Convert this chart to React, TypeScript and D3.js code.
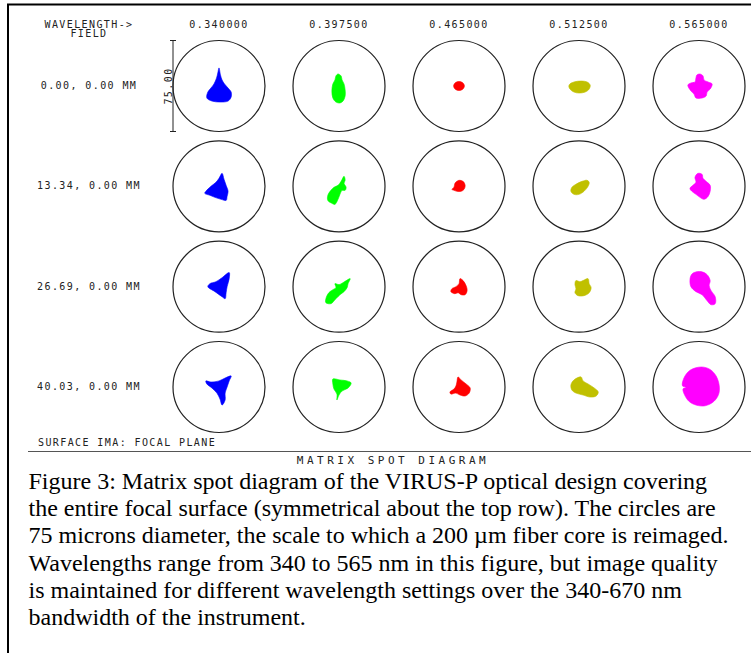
import * as d3 from 'd3'

const width = 751
const height = 653

// wavelengths (µm) across the top, field points down the side
const wavelengths = ['0.340000', '0.397500', '0.465000', '0.512500', '0.565000']
const fields = ['0.00, 0.00 MM', '13.34, 0.00 MM', '26.69, 0.00 MM', '40.03, 0.00 MM']
const spotColors = ['#0000ff', '#00ff00', '#ff0000', '#c0c000', '#ff00ff']

const circleDiameter = 75 // microns
const scaleLabel = '75.00'
const surfaceLabel = 'SURFACE IMA: FOCAL PLANE'
const title = 'MATRIX SPOT DIAGRAM'

// spot outlines, microns from the chief ray (x right, y down), one per wavelength
const spotsField0 = [
  [[0,-14.9],[1.2,-9.1],[2.5,-5],[4.5,-1.7],[7.4,1.7],[9.9,5],[9.9,9.1],[7.4,12.4],[0.8,13.2],[-5.8,12.4],[-9.9,9.9],[-9.1,5],[-6.6,1.7],[-4.1,-1.7],[-2,-6.6],[-1,-10.7]],
  [[-0.8,-9.9],[1.7,-8.3],[2.5,-5],[4.1,-1.7],[5,3.3],[5,8.3],[3.3,12.4],[0.8,14],[-2.5,13.2],[-5,9.9],[-5.8,4.1],[-5,-1.7],[-3.3,-5],[-2.5,-8.3]],
  [[4.4,0],[3.1,-2.6],[0,-3.7],[-3.1,-2.6],[-4.4,0],[-3.1,2.6],[0,3.7],[3.1,2.6]],
  [[-7.4,-1.7],[-4.1,-3.3],[1.7,-4.1],[6.6,-3.3],[9.1,-0.8],[8.3,2.5],[5,5],[0,5.8],[-4.1,5],[-7.4,2.5],[-8.3,0]],
  [[0.8,-9.9],[3.3,-8.3],[4.1,-5],[7.4,-3.3],[10.7,-1.7],[9.1,2.5],[6.6,5],[5.8,8.3],[2.5,9.9],[-2.5,9.9],[-4.1,6.6],[-6.6,4.1],[-9.1,-0.8],[-6.6,-2.5],[-3.3,-3.3],[-2.5,-6.6],[-1.7,-9.1]],
]
const spotsField13 = [
  [[2.5,-10.7],[4.1,-5.8],[5.8,-0.8],[7.4,4.1],[6.6,8.3],[5.8,11.6],[1.7,10.7],[-3.3,9.1],[-7.4,7.4],[-11.6,5.8],[-10.7,4.1],[-6.6,0],[-2.5,-3.3],[0,-6.6]],
  [[4.1,-8.3],[5,-5],[4.1,-2.5],[5.8,0.8],[5,3.3],[2.5,3.3],[0.8,6.6],[-0.8,10.7],[-3.3,14.9],[-5.8,14],[-9.1,11.6],[-9.1,7.4],[-6.6,3.3],[-4.1,0.8],[-0.8,-0.8],[1.7,-4.1]],
  [[0,-5],[3.3,-4.1],[5,-0.8],[4.1,2.5],[1.7,4.1],[-1.7,4.1],[-4.1,3.3],[-5.8,2.5],[-4.1,0.8],[-3.3,-2.5],[-1.7,-4.1]],
  [[6.6,-5],[8.3,-3.3],[7.4,0],[4.1,4.1],[0,6.6],[-4.1,6.6],[-6.6,4.1],[-5.8,0.8],[-2.5,-1.7],[2.5,-4.1]],
  [[-0.8,-10.7],[2.5,-9.9],[3.3,-6.6],[5.8,-4.1],[9.1,-0.8],[9.1,4.1],[7.4,8.3],[4.1,10.7],[0.8,9.1],[-2.5,6.6],[-5.8,4.1],[-7.4,1.7],[-5,-0.8],[-2.5,-3.3],[-3.3,-7.4]],
]
const spotsField26 = [
  [[8.3,-11.6],[8.3,-6.6],[6.6,0],[5.8,5],[5,9.9],[2.5,8.3],[-3.3,4.1],[-9.1,0],[-7.4,-2.5],[-2.5,-4.1],[2.5,-7.4]],
  [[9.1,-6.6],[7.4,-2.5],[6.6,0.8],[4.1,4.1],[0.8,6.6],[-2.5,9.9],[-6.6,14],[-10.7,13.2],[-10.7,9.9],[-8.3,5],[-5,2.5],[-2.5,0.8],[-3.3,-2.5],[0,-1.7],[3.3,-3.3]],
  [[0.8,-6.6],[3.3,-5],[5.8,-0.8],[6.6,3.3],[5,6.6],[1.7,6.6],[-0.8,5],[-3.3,5.8],[-6.6,4.1],[-5.8,1.7],[-2.5,0],[0,-2.5]],
  [[-2.5,-5],[0.8,-4.1],[3.3,-5],[7.4,-6.6],[8.3,-2.5],[9.9,0.8],[8.3,5],[4.1,7.4],[-0.8,7.4],[-3.3,5],[-2.5,1.7],[-3.3,-1.7]],
  [[-4.1,-11.6],[1.7,-12.4],[6.6,-9.9],[9.1,-5],[8.3,-0.8],[9.9,3.3],[13.2,8.3],[13.2,14],[9.9,14.9],[6.6,11.6],[2.5,6.6],[-2.5,4.1],[-6.6,0],[-7.4,-5],[-6.6,-9.1]],
]
const spotsField40 = [
  [[-10.7,-5],[-6.6,-4.1],[0,-5],[5,-7.4],[9.9,-9.1],[8.3,-5],[6.6,0],[5,5],[5,10.7],[2.5,14.9],[0.8,9.9],[-1.7,5],[-5.8,0.8],[-9.9,-2.5]],
  [[-5,-6.6],[0.8,-5.8],[6.6,-5],[9.9,-3.3],[7.4,0.8],[2.5,3.3],[0,6.6],[-1.7,10.7],[-1.7,5.8],[-4.1,1.7],[-5,-2.5]],
  [[-0.8,-8.3],[1.7,-5.8],[5.8,-2.5],[9.1,0.8],[8.3,5],[5,7.4],[0.8,6.6],[-2.5,5],[-6.6,5.8],[-7.4,4.1],[-4.1,1.7],[-2.5,-0.8],[-1.7,-4.1]],
  [[-4.1,-5.8],[1.7,-8.3],[3.3,-5],[7.4,-2.5],[12.4,0.8],[15.7,4.1],[14,7.4],[9.1,8.3],[3.3,6.6],[-2.5,5],[-5.8,2.5],[-6.6,-1.7]],
  [[2,-16.5],[9,-14.5],[14,-9],[16.5,-1],[16,6],[12,12],[5,15.5],[-2,15],[-8,12],[-12,6],[-13,1.5],[-10.5,0.5],[-13.5,-1],[-12,-8],[-7,-14]],
]
const spots = [spotsField0, spotsField13, spotsField26, spotsField40]

const captionLines = [
  'Figure 3: Matrix spot diagram of the VIRUS-P optical design covering',
  'the entire focal surface (symmetrical about the top row). The circles are',
  '75 microns diameter, the scale to which a 200 \u00b5m fiber core is reimaged.',
  'Wavelengths range from 340 to 565 nm in this figure, but image quality',
  'is maintained for different wavelength settings over the 340-670 nm',
  'bandwidth of the instrument.',
]

const mono = '"DejaVu Sans Mono", monospace'
const ink = '#222'

function App() {
  const col = d3.scalePoint().domain(wavelengths).range([219, 699])
  const row = d3.scalePoint().domain(fields).range([86, 387])

  // microns -> pixels inside one cell
  const sx = d3.scaleLinear().domain([-circleDiameter / 2, circleDiameter / 2]).range([-46, 46])
  const sy = d3.scaleLinear().domain([-circleDiameter / 2, circleDiameter / 2]).range([-45.5, 45.5])

  const spotLine = d3.line<number[]>()
    .x(d => sx(d[0]))
    .y(d => sy(d[1]))
    .curve(d3.curveCatmullRomClosed)

  const captionY = d3.scaleLinear().domain([0, 1]).range([489, 516.2])

  const barX = (col(wavelengths[0]) as number) + sx(-circleDiameter / 2)
  const barTop = (row(fields[0]) as number) + sy(-circleDiameter / 2)
  const barBottom = (row(fields[0]) as number) + sy(circleDiameter / 2)

  return (
    <svg width={width} height={height} style={{ position: 'absolute', left: 0, top: 0, background: '#fff' }}>
      <rect x={8} y={4.5} width={800} height={700} fill="none" stroke="#000" strokeWidth={2} />

      <g fontFamily={mono} fontSize={10} fill={ink} letterSpacing={1.4}>
        <text x={89} y={27.5} textAnchor="middle">WAVELENGTH-&gt;</text>
        <text x={89} y={37} textAnchor="middle">FIELD</text>
        {wavelengths.map(w => (
          <text key={w} x={col(w)} y={27.5} textAnchor="middle">{w}</text>
        ))}
        {fields.map(f => (
          <text key={f} x={89} y={(row(f) as number) + 3} textAnchor="middle">{f}</text>
        ))}
        <text x={38} y={446}>{surfaceLabel}</text>
        <text
          transform={`translate(${barX - 1.5},${(barTop + barBottom) / 2}) rotate(-90)`}
          textAnchor="middle"
        >{scaleLabel}</text>
      </g>

      <g stroke={ink} strokeWidth={1}>
        <line x1={barX} x2={barX} y1={barTop} y2={barBottom} />
        <line x1={barX - 3} x2={barX + 3} y1={barTop} y2={barTop} />
        <line x1={barX - 3} x2={barX + 3} y1={barBottom} y2={barBottom} />
      </g>

      {fields.map((f, ri) => (
        <g key={f} transform={`translate(0,${row(f)})`}>
          {wavelengths.map((w, ci) => (
            <g key={w} transform={`translate(${col(w)},0)`}>
              <ellipse rx={sx(circleDiameter / 2)} ry={sy(circleDiameter / 2)} fill="none" stroke={ink} strokeWidth={1.2} />
              <path d={spotLine(spots[ri][ci]) as string} fill={spotColors[ci]} stroke={spotColors[ci]} strokeWidth={0.6} />
            </g>
          ))}
        </g>
      ))}

      <line x1={28} x2={751} y1={451.5} y2={451.5} stroke="#555" strokeWidth={1} />
      <text x={393} y={463.5} textAnchor="middle" fontFamily={mono} fontSize={11} letterSpacing={3.5} fill={ink}>{title}</text>

      <g fontFamily={'"Liberation Serif", "Times New Roman", serif'} fontSize={24} fill="#000">
        {captionLines.map((t, i) => (
          <text key={i} x={28.5} y={captionY(i)}>{t}</text>
        ))}
      </g>
    </svg>
  )
}

export default App
